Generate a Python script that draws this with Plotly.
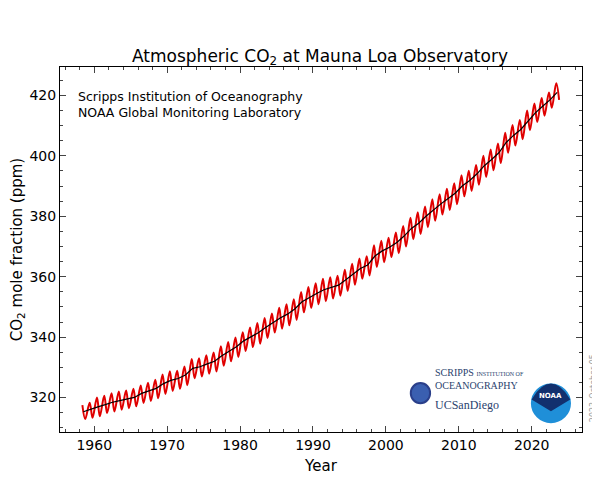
import plotly.graph_objects as go

years = list(range(1958, 2024))
annual_mean = [315.3, 315.98, 316.91, 317.64, 318.45, 318.99, 319.62, 320.04, 321.37, 322.18,
               323.05, 324.62, 325.68, 326.32, 327.46, 329.68, 330.19, 331.13, 332.03, 333.84,
               335.41, 336.84, 338.76, 340.12, 341.48, 343.15, 344.87, 346.35, 347.61, 349.31,
               351.69, 353.20, 354.45, 355.70, 356.54, 357.21, 358.96, 360.97, 362.74, 363.88,
               366.84, 368.54, 369.71, 371.32, 373.45, 375.98, 377.70, 379.98, 382.09, 384.02,
               385.83, 387.64, 390.10, 391.85, 394.06, 396.74, 398.81, 401.01, 404.41, 406.76,
               408.72, 411.65, 414.21, 416.41, 418.53, 421.0]
# seasonal maxima (around May) and minima (around October), read per year
may_peak = [317.5, 318.3, 320.0, 320.6, 321.4, 322.0, 322.3, 322.9, 324.0, 324.9,
            325.9, 327.6, 328.7, 328.9, 330.3, 332.8, 333.0, 334.0, 334.9, 337.0,
            338.4, 339.9, 341.6, 343.2, 344.7, 346.3, 347.8, 349.7, 350.9, 352.5,
            354.9, 356.6, 357.8, 359.3, 359.8, 360.3, 362.3, 364.3, 366.0, 366.8,
            370.4, 371.9, 372.9, 374.6, 376.8, 379.5, 381.3, 383.2, 385.6, 387.3,
            389.1, 390.9, 393.6, 395.1, 397.0, 400.0, 402.1, 404.1, 407.6, 410.2,
            411.9, 415.0, 417.3, 419.1, 421.0, 424.0]
oct_trough = [312.9, 313.3, 313.8, 314.9, 315.4, 316.0, 316.5, 317.1, 318.2, 318.9,
              319.8, 321.2, 322.2, 322.9, 324.1, 326.4, 327.0, 327.9, 328.6, 330.5,
              332.0, 333.4, 335.4, 336.7, 337.8, 339.7, 341.5, 342.8, 343.9, 345.7,
              348.2, 349.6, 350.9, 351.9, 352.8, 353.7, 355.3, 357.3, 359.3, 360.4,
              363.2, 364.8, 366.5, 367.8, 370.0, 372.4, 374.1, 376.4, 378.5, 380.6,
              382.1, 384.0, 386.6, 388.4, 390.4, 393.0, 395.2, 397.6, 401.0, 403.4,
              405.5, 408.5, 411.2, 413.3, 415.9, 418.5]

xs, ys = [], []
for y, p, t in zip(years, may_peak, oct_trough):
    xs += [y + 0.37, y + 0.76]
    ys += [p, t]

fig = go.Figure()
fig.add_trace(go.Scatter(x=xs, y=ys, mode="lines", line=dict(color="#e00000", width=2, shape="spline")))
fig.add_trace(go.Scatter(x=[y + 0.5 for y in years], y=annual_mean, mode="lines",
                         line=dict(color="black", width=1.2)))

ax = dict(showline=True, linecolor="black", mirror="allticks", ticks="inside", ticklen=6,
          showgrid=False, zeroline=False, tickfont=dict(size=14, color="black"), automargin=False)
fig.update_layout(
    width=592, height=492, showlegend=False,
    plot_bgcolor="white", paper_bgcolor="white",
    font=dict(family="DejaVu Sans", color="black"),
    margin=dict(l=52, r=18, t=59, b=68),
    title=dict(text="Atmospheric CO<sub>2</sub> at Mauna Loa Observatory", x=0.527, y=0.915,
               xanchor="center", font=dict(size=17), automargin=False),
    xaxis=dict(ax, range=[1955.3, 2026.9], dtick=10, title=dict(text="Year", font=dict(size=15), standoff=8),
               minor=dict(ticks="inside", ticklen=3, dtick=2)),
    yaxis=dict(ax, range=[308.6, 429.4], dtick=20, title=dict(text="CO<sub>2</sub> mole fraction (ppm)", font=dict(size=15), standoff=6),
               minor=dict(ticks="inside", ticklen=3, dtick=5)),
)
fig.add_annotation(x=0.03, y=0.945, xref="paper", yref="paper", xanchor="left", yanchor="top", showarrow=False,
                   align="left", text="Scripps Institution of Oceanography<br>NOAA Global Monitoring Laboratory",
                   font=dict(size=12.5))
# logos approximated with shapes and text
fig.add_shape(type="circle", xref="paper", yref="paper", x0=0.672, x1=0.709, y0=0.079, y1=0.134,
              fillcolor="#3a5fb0", line=dict(color="#2a3f8a"))
fig.add_annotation(x=0.714, y=0.107, xref="paper", yref="paper", xanchor="left", showarrow=False, align="left",
                   text="SCRIPPS <span style='font-size:6px'>INSTITUTION OF</span><br>OCEANOGRAPHY",
                   font=dict(size=10, family="Liberation Serif", color="#2a3f6e"))
fig.add_annotation(x=0.714, y=0.049, xref="paper", yref="paper", xanchor="left", showarrow=False,
                   text="UCSanDiego", font=dict(size=12, family="Liberation Serif", color="#2a3f6e"))
fig.add_shape(type="circle", xref="paper", yref="paper", x0=0.904, x1=0.977, y0=0.027, y1=0.13,
              fillcolor="#1f8fd8", line=dict(color="#1f8fd8"))
fig.add_shape(type="path", xref="paper", yref="paper",
              path="M 0.906 0.09 Q 0.9405 0.17 0.975 0.09 L 0.9405 0.06 Z",
              fillcolor="#12306e", line=dict(color="#12306e"))
fig.add_annotation(x=0.9405, y=0.1, xref="paper", yref="paper", xanchor="center", yanchor="middle",
                   showarrow=False, text="<b>NOAA</b>", font=dict(size=7, color="white"))
fig.add_annotation(x=1.021, y=0.12, xref="paper", yref="paper", xanchor="center", yanchor="middle",
                   showarrow=False, textangle=-90,
                   text="2023-October-05", font=dict(size=8, color="#999"))

fig.write_html("out.html")
